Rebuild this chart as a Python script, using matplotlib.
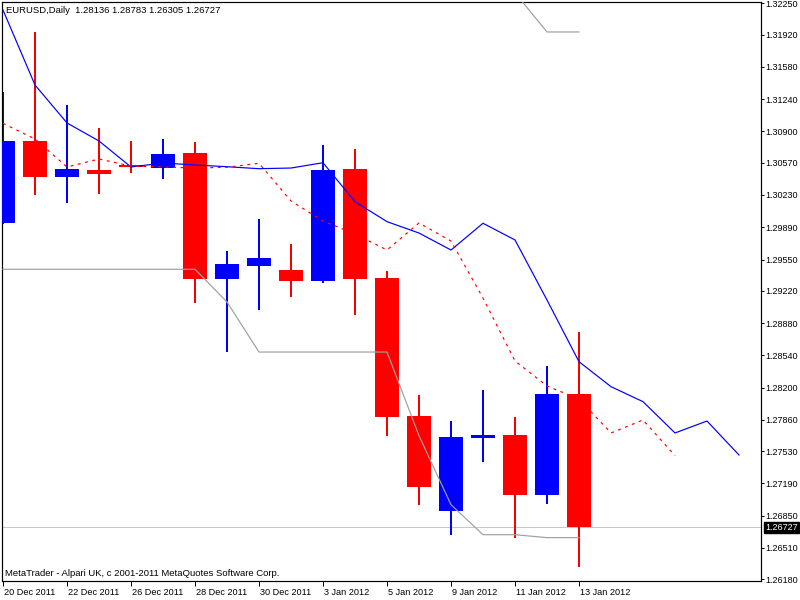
import matplotlib
matplotlib.use("Agg")
import matplotlib.pyplot as plt
from matplotlib.transforms import ScaledTranslation

plt.rcParams['font.family'] = ['Liberation Sans', 'DejaVu Sans']

# daily EURUSD bars, 20 Dec 2011 .. 13 Jan 2012
opens = [1.29938, 1.30799, 1.30423, 1.30493, 1.30546, 1.30518, 1.30672, 1.29348, 1.29485, 1.29440,
         1.29327, 1.30504, 1.29355, 1.27901, 1.26903, 1.27672, 1.27701, 1.27072, 1.28136]
highs = [1.31315, 1.31948, 1.31178, 1.30933, 1.30799, 1.30817, 1.30788, 1.29640, 1.29977, 1.29714,
         1.30757, 1.30715, 1.29429, 1.28122, 1.27848, 1.28175, 1.27890, 1.28428, 1.28783]
lows = [1.29920, 1.30230, 1.30149, 1.30244, 1.30465, 1.30402, 1.29095, 1.28575, 1.29021, 1.29158,
        1.29306, 1.28960, 1.27693, 1.26966, 1.26650, 1.27419, 1.26619, 1.26977, 1.26305]
closes = [1.30799, 1.30423, 1.30504, 1.30454, 1.30525, 1.30662, 1.29348, 1.29503, 1.29566, 1.29327,
          1.30493, 1.29348, 1.27894, 1.27156, 1.27680, 1.27701, 1.27072, 1.28133, 1.26727]

# shifted moving averages (they run past the last bar)
ma_blue = [1.32179, 1.31389, 1.30989, 1.30799, 1.30525, 1.30567, 1.30546, 1.30528, 1.30507, 1.30514,
           1.30570, 1.30159, 1.29949, 1.29829, 1.29650, 1.29932, 1.29756, 1.29123, 1.28473, 1.28210,
           1.28052, 1.27722, 1.27848, 1.27490]
ma_red = [1.30985, 1.30820, 1.30525, 1.30609, 1.30535, 1.30525, 1.30514, 1.30522, 1.30564, 1.30167,
          1.29956, 1.29819, 1.29650, 1.29935, 1.29745, 1.29144, 1.28481, 1.28217, 1.28080, 1.27722,
          1.27859, 1.27483]

# channel lines (gray)
chan_low = [1.29447, 1.29447, 1.29447, 1.29447, 1.29447, 1.29447, 1.29447, 1.29102, 1.28575, 1.28575,
            1.28575, 1.28575, 1.28575, 1.27693, 1.26966, 1.26650, 1.26650, 1.26619, 1.26619]
chan_high_start = 16
chan_high = [1.32360, 1.31948, 1.31948]

date_labels = ["20 Dec 2011", "22 Dec 2011", "26 Dec 2011", "28 Dec 2011", "30 Dec 2011",
               "3 Jan 2012", "5 Jan 2012", "9 Jan 2012", "11 Jan 2012", "13 Jan 2012"]
date_pos = [0, 2, 4, 6, 8, 10, 12, 14, 16, 18]

price_ticks = [1.32250, 1.31920, 1.31580, 1.31240, 1.30900, 1.30570, 1.30230, 1.29890, 1.29550,
               1.29220, 1.28880, 1.28540, 1.28200, 1.27860, 1.27530, 1.27190, 1.26850, 1.26510, 1.26180]
last_price = 1.26727

BULL = '#0000ff'
BEAR = '#ff0000'
PX = 0.72  # one pixel in points
BAR_PX = 32  # pixels per bar

fig = plt.figure(figsize=(8, 6), dpi=100)
fig.patch.set_facecolor('white')
ax = fig.add_axes([2 / 800, 19 / 600, 759 / 800, 579 / 600])
ax.set_facecolor('white')

k = (1.32250 - 1.26180) / 576.0
ax.set_xlim(-1 / BAR_PX, 758 / BAR_PX)
ax.set_ylim(1.32250 - 577.7 * k, 1.32250 + 1.3 * k)

ax.axhline(last_price, color='#c8c8c8', lw=PX, zorder=1, antialiased=False)

for i in range(len(opens)):
    o, h, l, c = opens[i], highs[i], lows[i], closes[i]
    col = BULL if c >= o else BEAR
    # wick as a one pixel wide bar, body on top
    ax.bar(i, h - l, bottom=l, width=1.1 / BAR_PX, color=col, linewidth=0, zorder=2)
    ax.bar(i, abs(c - o), bottom=min(o, c), width=0.78, color=col, linewidth=0, zorder=3)

ax.plot(range(len(chan_low)), chan_low, color='#a0a0a0', lw=PX * 1.2, zorder=4)
ax.plot(range(chan_high_start, chan_high_start + len(chan_high)), chan_high,
        color='#a0a0a0', lw=PX * 1.2, zorder=4)
ax.plot(range(len(ma_blue)), ma_blue, color=BULL, lw=PX * 1.2, zorder=5)
ax.plot(range(len(ma_red)), ma_red, color=BEAR, lw=PX * 1.2, linestyle=(0, (2.4, 3.8)), zorder=5)

for s in ax.spines.values():
    s.set_color('black')
    s.set_linewidth(PX * 1.2)

ax.yaxis.tick_right()
ax.set_yticks(price_ticks)
ax.set_yticklabels([f"{p:.5f}" for p in price_ticks])
ax.tick_params(axis='y', direction='out', length=3 * PX, width=PX, pad=0.8, labelsize=6.5, colors='black')

ax.set_xticks(date_pos)
ax.set_xticklabels(date_labels, ha='left')
ax.tick_params(axis='x', direction='out', length=5 * PX, width=PX, pad=1.5, labelsize=6.6, colors='black')
shift = ScaledTranslation(1.5 / 100, 0, fig.dpi_scale_trans)
for lab in ax.get_xticklabels():
    lab.set_transform(lab.get_transform() + shift)

ax.text(1.0, last_price, f"{last_price:.5f}", color='white', fontsize=6.5, va='center', ha='left',
        transform=ax.get_yaxis_transform() + ScaledTranslation(4 / 100, 0, fig.dpi_scale_trans),
        bbox=dict(boxstyle='square,pad=0.15', fc='black', ec='black'), zorder=10, clip_on=False)

fig.text(6 / 800, 1 - 10.5 / 600, "EURUSD,Daily  1.28136 1.28783 1.26305 1.26727",
         fontsize=6.8, va='center', ha='left', color='black')
fig.text(5 / 800, 1 - 574 / 600, "MetaTrader - Alpari UK, c 2001-2011 MetaQuotes Software Corp.",
         fontsize=6.8, va='center', ha='left', color='black')

fig.savefig("out.png", dpi=100, facecolor='white')
